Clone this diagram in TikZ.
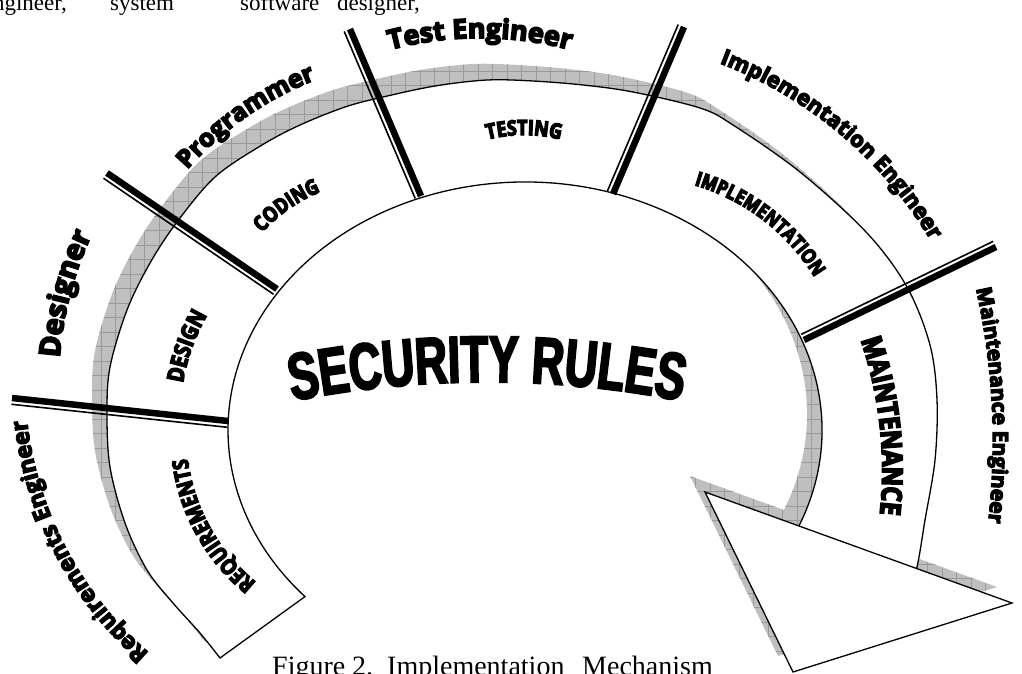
\documentclass[tikz,border=0pt]{standalone}
\usepackage{fontspec}
\setmainfont{Liberation Serif}
\newfontfamily\labfont{Open Sans}[BoldFeatures={FakeBold=6}]
\newfontfamily\inlabfont{Open Sans}[FakeStretch=0.85,BoldFeatures={FakeBold=6}]
\newfontfamily\secfont{Liberation Sans}[FakeStretch=0.68,BoldFeatures={FakeBold=3}]
\usetikzlibrary{calc,decorations.text}
% #1 font, #2 x, #3 y (pixels, baseline centre), #4 outward angle, #5 radius, #6 size, #7 text, #8 half span
\newcommand\arclabel[8]{%
  \path[decorate,decoration={text along path,text align=center,
      text={|#1\bfseries\fontsize{#6}{#6}\selectfont|#7}}]
    ($(#2,-#3)+(#4+180:#5pt)+(#4+#8:#5pt)$)
    arc[start angle=#4+#8,end angle=#4-#8,radius=#5pt];}
\begin{document}
\begin{tikzpicture}[x=1pt,y=1pt,
  bandpath/.style={insert path={plot[smooth,tension=0.55] coordinates {
     (220,-658) (200,-633) (173,-603) (147,-570) (125,-523) (110,-467)
     (107,-413) (110,-367) (127,-310) (150,-263) (177,-222) (215,-177)
     (262,-145) (300,-125) (345,-107) (383,-97) (435,-86) (487,-80)
     (533,-81) (583,-85) (633,-92) (700,-108) (733,-125) (800,-172)
     (867,-233) (907,-287) (930,-345) (937,-400) (935,-460) (925,-520)
     (917,-567) (905,-610)}
     -- ($(525,-430)+(-30:297pt and 248pt)$)
     arc[start angle=-30,end angle=222.2,x radius=297pt,y radius=248pt] -- cycle}},
  tripath/.style={insert path={(705,-492) -- (1012,-603) -- (793,-672) -- cycle}},
  shadowfill/.style={fill=black!25},
  gridline/.style={draw=black!40,line width=0.5pt},
  outline/.style={draw=black,line width=1.3pt,fill=white},
  thickbar/.style={line width=6.5pt},
  thinbar/.style={line width=1.6pt},
  bodytext/.style={inner sep=0pt,font=\fontsize{23}{23}\selectfont},
  captext/.style={inner sep=0pt,anchor=base west,font=\fontsize{28}{28}\selectfont}
]
\useasboundingbox (0,0) rectangle (1022,-673);
% shadows
\begin{scope}[shift={(-15,16)}]
  \clip[bandpath];
  \fill[shadowfill] (-100,100) rectangle (1200,-800);
  \draw[gridline,step=14.5] (-101,-801) grid (1200,100);
\end{scope}
\begin{scope}[shift={(-15,16)}]
  \clip[tripath];
  \fill[shadowfill] (-100,100) rectangle (1200,-800);
  \draw[gridline,step=14.5] (-101,-801) grid (1200,100);
\end{scope}
% band and arrow head
\path[outline,bandpath];
\path[outline,tripath];
% separators
\coordinate (a1) at (228,-421); \coordinate (b1) at (12,-398);
\coordinate (a2) at (277,-289); \coordinate (b2) at (107,-173);
\coordinate (a3) at (421,-196); \coordinate (b3) at (350,-29);
\coordinate (a4) at (613,-194); \coordinate (b4) at (684,-27);
\coordinate (a5) at (804,-340); \coordinate (b5) at (996,-247);
\foreach \i in {1,...,5}{
  \draw[thickbar] (a\i) -- (b\i);
  \draw[thinbar] ($(a\i)!6.3pt!90:(b\i)$) -- ($(b\i)!6.3pt!-90:(a\i)$);
}
% outer labels
\arclabel{\labfont}{480}{38}{90}{350}{27}{Test Engineer}{35}
\arclabel{\labfont}{840}{134}{50}{420}{22}{Implementation Engineer}{40}
\arclabel{\labfont}{992}{405}{3}{700}{21}{Maintenance Engineer}{25}
\arclabel{\labfont}{246}{117}{125}{330}{25}{Programmer}{35}
\arclabel{\labfont}{70}{295}{165.4}{350}{29}{Designer}{30}
\arclabel{\labfont}{66}{548}{207.7}{360}{23}{Requirements Engineer}{40}
% inner labels
\arclabel{\inlabfont}{524}{135}{90}{150}{21}{TESTING}{40}
\arclabel{\inlabfont}{289}{209}{125}{160}{21}{CODING}{40}
\arclabel{\inlabfont}{192}{348}{160.3}{200}{23}{DESIGN}{40}
\arclabel{\inlabfont}{210}{527}{209}{190}{22}{REQUIREMENTS}{50}
\arclabel{\inlabfont}{763}{220}{52.5}{210}{20}{IMPLEMENTATION}{50}
\arclabel{\inlabfont}{880}{426}{6.3}{400}{28}{MAINTENANCE}{30}
% central title
\path[decorate,decoration={text along path,text align=center,
   text={|\secfont\bfseries\fontsize{66}{66}\selectfont|SECURITY RULES}}]
   ($(487,-1394)+(115:1012pt)$) arc[start angle=115,end angle=65,radius=1012pt];
% body text and caption
\node[bodytext,anchor=base east] (t1) at (67,-10) {engineer,};
\node[bodytext,anchor=base west] (t2) at (110,-10) {system};
\node[bodytext,anchor=base west] (t3) at (240,-10) {software};
\node[bodytext,anchor=base east] (t4) at (420,-10) {designer,};
\node[captext] (c1) at (272,-675.5) {Figure};
\node[captext] (c2) at (352,-675.5) {2.};
\node[captext] (c3) at (387,-675.5) {Implementation};
\node[captext] (c4) at (582,-675.5) {Mechanism};
\end{tikzpicture}
\end{document}
